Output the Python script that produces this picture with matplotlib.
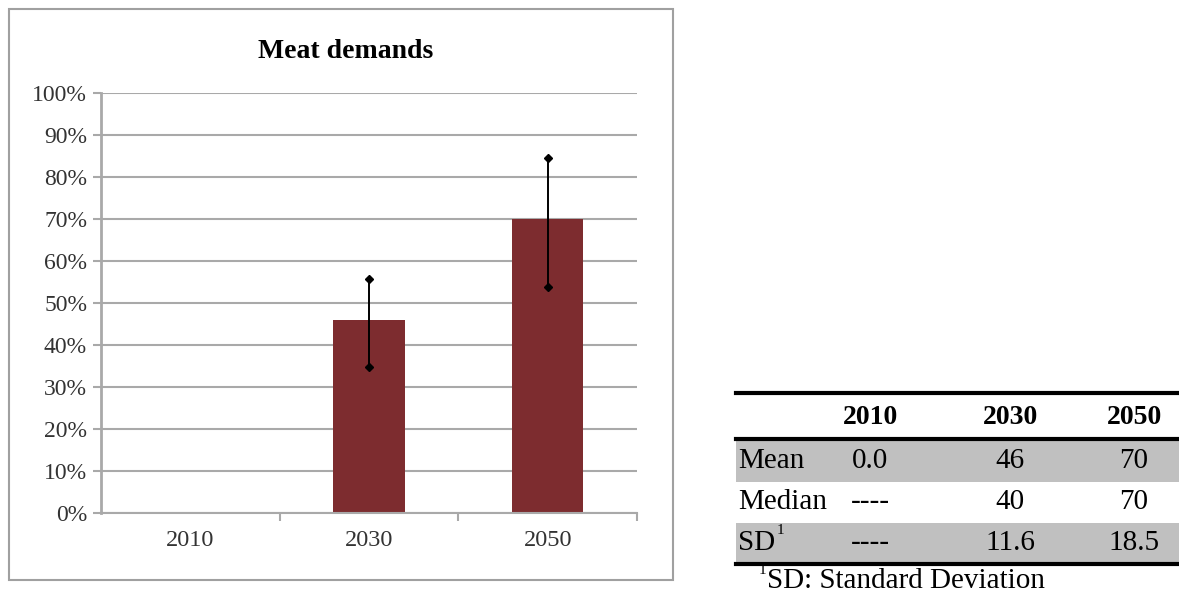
import numpy as np
import matplotlib.pyplot as plt
from matplotlib.patches import Rectangle

plt.rcParams['font.family'] = ['Liberation Serif', 'DejaVu Serif']

# data
years = ['2010', '2030', '2050']
mean_pct = [0, 46, 70]
err_low = [np.nan, 34.8, 53.8]
err_high = [np.nan, 55.6, 84.6]

row_labels = ['Mean', 'Median', 'SD']
table_vals = [['0.0', '46', '70'],
              ['----', '40', '70'],
              ['----', '11.6', '18.5']]

bar_color = '#7D2C2F'
grid_color = '#A9A9A9'
tick_color = '#333333'

fig = plt.figure(figsize=(11.79, 5.95), dpi=100)

# outer frame of the chart
frame = fig.add_axes([0, 0, 1, 1], zorder=-1)
frame.set_xlim(0, 1179)
frame.set_ylim(595, 0)
frame.axis('off')
frame.add_patch(Rectangle((9, 9), 664, 571, fill=False, ec='#A0A0A0', lw=1.5))

ax = fig.add_axes([101 / 1179, 1 - 513 / 595, 536 / 1179, 420 / 595])
x = np.arange(len(years))
ax.bar(x, mean_pct, width=0.4, color=bar_color, zorder=2)

lo = np.array(err_low)
hi = np.array(err_high)
ax.vlines(x, lo, hi, color='black', lw=1.4, zorder=3)
ax.plot(x, lo, 'D', color='black', ms=4, zorder=4)
ax.plot(x, hi, 'D', color='black', ms=4, zorder=4)

ax.set_xlim(-0.5, 2.5)
ax.set_ylim(0, 100)
ax.set_yticks(np.arange(0, 101, 10))
ax.set_yticklabels([f'{v}%' for v in range(0, 101, 10)], fontsize=17, color=tick_color)
ax.set_xticks(x)
ax.set_xticklabels(years, fontsize=17.5, color=tick_color)
ax.set_xticks([0.5, 1.5, 2.5], minor=True)
ax.tick_params(axis='x', which='major', length=0, pad=12)
ax.tick_params(axis='x', which='minor', length=6, color=grid_color, width=1.5)
ax.tick_params(axis='y', length=6, color=grid_color, width=1.5, pad=4)
ax.grid(axis='y', color=grid_color, lw=1.5, zorder=0)
ax.set_axisbelow(True)
for s in ['top', 'right']:
    ax.spines[s].set_visible(False)
ax.spines['left'].set_color(grid_color)
ax.spines['left'].set_linewidth(2)
ax.spines['bottom'].set_color(grid_color)
ax.spines['bottom'].set_linewidth(1.5)
fig.text(346 / 1179, 1 - 52 / 595, 'Meat demands', ha='center', va='center',
         fontsize=20, fontweight='bold')

# summary table on the right
col_x = [870, 1010, 1134]
row_y = [461, 502, 543]
row_bg = ['#C0C0C0', None, '#C0C0C0']
tx0, tx1 = 736, 1179
for y, bg in zip(row_y, row_bg):
    if bg:
        frame.add_patch(Rectangle((tx0, y - 20), tx1 - tx0, 41, color=bg, lw=0))
frame.plot([tx0, tx1], [393, 393], color='black', lw=3)
frame.plot([tx0, tx1], [439, 439], color='black', lw=3)
frame.plot([tx0, tx1], [564, 564], color='black', lw=3)
for cx, yr in zip(col_x, years):
    frame.text(cx, 418, yr, ha='center', va='center', fontsize=20, fontweight='bold')
for y, lab, vals in zip(row_y, row_labels, table_vals):
    frame.text(738, y, lab, ha='left', va='center', fontsize=21)
    for cx, v in zip(col_x, vals):
        frame.text(cx, y, v, ha='center', va='center', fontsize=21)
# superscript marks
frame.text(777, 531, '1', ha='left', va='center', fontsize=11)
frame.text(759, 571, '1', ha='left', va='center', fontsize=11)
frame.text(767, 581, 'SD: Standard Deviation', ha='left', va='center', fontsize=21)

fig.savefig('out.png', dpi=100)
